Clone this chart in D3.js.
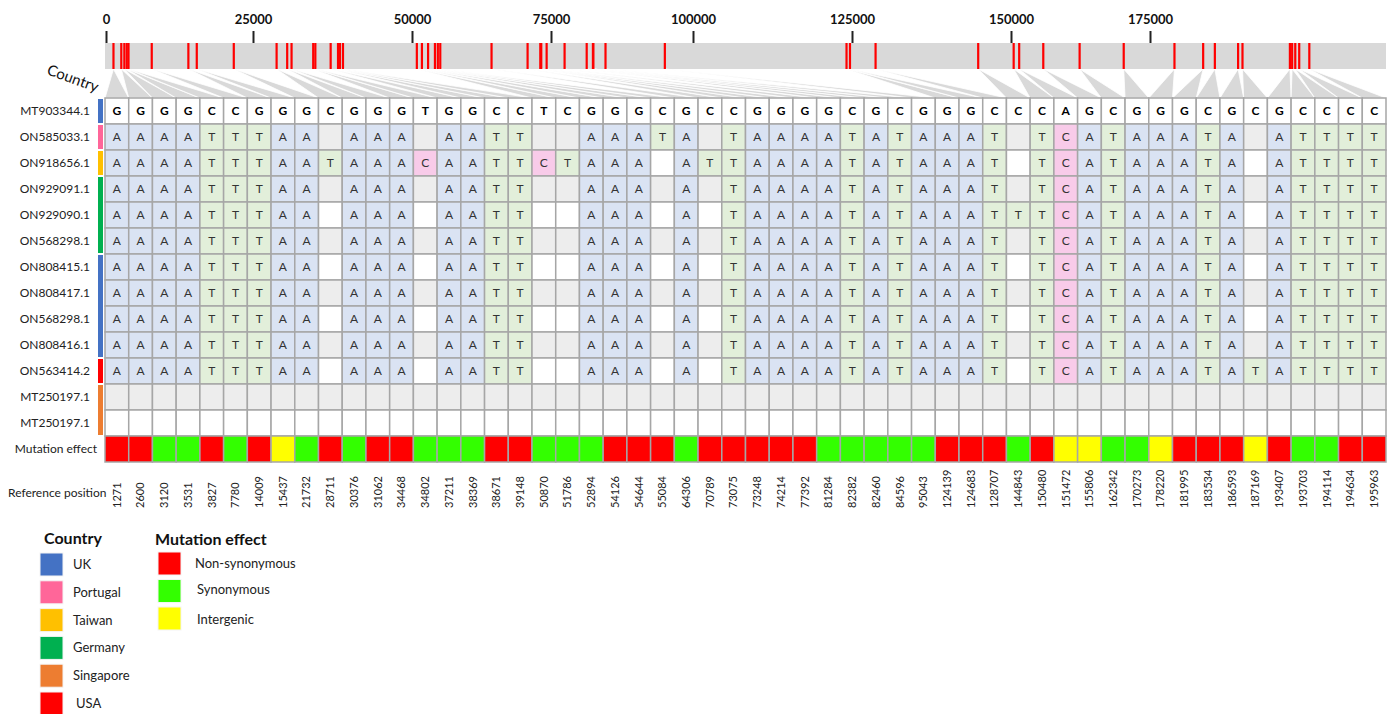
<!DOCTYPE html>
<html><head><meta charset="utf-8">
<script src="https://cdn.jsdelivr.net/npm/d3@7"></script>
<style>
body{margin:0;background:#fff;}
text{font-family:Lato,"Open Sans",sans-serif;}
</style>
</head><body>
<svg id="c" width="1394" height="714"></svg>
<script>
// ---------- data ----------
const positions = [1271,2600,3120,3531,3827,7780,14009,15437,21732,28711,30376,31062,34468,34802,37211,38369,38671,39148,50870,51786,52894,54126,54644,55084,64306,70789,73075,73248,74214,77392,81284,82382,82460,84596,95043,124139,124683,128707,144843,150480,151472,155806,162342,170273,178220,181995,183534,186593,187169,193407,193703,194114,194634,195963];
const genomeTicks = [0,25000,50000,75000,100000,125000,150000,175000];
const sampleNames = ["MT903344.1","ON585033.1","ON918656.1","ON929091.1","ON929090.1","ON568298.1","ON808415.1","ON808417.1","ON568298.1","ON808416.1","ON563414.2","MT250197.1","MT250197.1"];
const sampleCountries = ["UK","Portugal","Taiwan","Germany","Germany","Germany","UK","UK","UK","UK","USA","Singapore","Singapore"];
// "-" = same as reference (no call shown)
const sampleSeqs = [
  "GGGGCCGGGCGGGTGGCCTCGGGCGCCGGGGCGCGGGCCCAGCGGGCGCGCCCC",
  "AAAATTTAA-AAA-AATT--AAATA-TAAAATATAAAT-TCATAAATA-ATTTT",
  "AAAATTTAATAAACAATTCTAAA-ATTAAAATATAAAT-TCATAAATA-ATTTT",
  "AAAATTTAA-AAA-AATT--AAA-A-TAAAATATAAAT-TCATAAATA-ATTTT",
  "AAAATTTAA-AAA-AATT--AAA-A-TAAAATATAAATTTCATAAATA-ATTTT",
  "AAAATTTAA-AAA-AATT--AAA-A-TAAAATATAAAT-TCATAAATA-ATTTT",
  "AAAATTTAA-AAA-AATT--AAA-A-TAAAATATAAAT-TCATAAATA-ATTTT",
  "AAAATTTAA-AAA-AATT--AAA-A-TAAAATATAAAT-TCATAAATA-ATTTT",
  "AAAATTTAA-AAA-AATT--AAA-A-TAAAATATAAAT-TCATAAATA-ATTTT",
  "AAAATTTAA-AAA-AATT--AAA-A-TAAAATATAAAT-TCATAAATA-ATTTT",
  "AAAATTTAA-AAA-AATT--AAA-A-TAAAATATAAAT-TCATAAATATATTTT",
  "------------------------------------------------------",
  "------------------------------------------------------"
];
const effects = ["Non-synonymous","Non-synonymous","Synonymous","Synonymous","Non-synonymous","Synonymous","Non-synonymous","Intergenic","Synonymous","Non-synonymous",
  "Synonymous","Non-synonymous","Non-synonymous","Synonymous","Synonymous","Synonymous","Non-synonymous","Non-synonymous","Synonymous","Synonymous",
  "Synonymous","Non-synonymous","Non-synonymous","Non-synonymous","Synonymous","Non-synonymous","Non-synonymous","Non-synonymous","Non-synonymous","Non-synonymous",
  "Synonymous","Synonymous","Synonymous","Synonymous","Synonymous","Non-synonymous","Non-synonymous","Non-synonymous","Synonymous","Non-synonymous",
  "Intergenic","Intergenic","Synonymous","Synonymous","Intergenic","Non-synonymous","Non-synonymous","Non-synonymous","Intergenic","Non-synonymous",
  "Synonymous","Synonymous","Non-synonymous","Non-synonymous"];
const countryNames = ["UK","Portugal","Taiwan","Germany","Singapore","USA"];
const countryColors = ["#4472c4","#ff6699","#ffc000","#00b050","#ed7d31","#ff0000"];
const effectNames = ["Non-synonymous","Synonymous","Intergenic"];
const effectColors = ["#ff0000","#33ff00","#ffff00"];
const baseColors = {A:"#dae3f3",T:"#e2efda",C:"#f8cbe9",G:"#fff2cc"};

// ---------- layout ----------
const svg = d3.select("#c");
const gridL = 105, gridR = 1386, gridTop = 98, rowH = 26;
const barTop = 43, barBot = 69;
const xG = d3.scaleLinear()
  .domain([0,25000,50000,75000,100000,125000,150000,175000,200000])
  .range([106,253,412,551,693,852,1011,1150,1340]);
const xC = d3.scaleBand().domain(positions).range([gridL, gridR]);
const nRows = sampleNames.length + 1;
const yR = d3.scaleBand().domain(d3.range(nRows)).range([gridTop, gridTop + nRows*rowH]);
const countryColor = d3.scaleOrdinal().domain(countryNames).range(countryColors);
const effectColor = d3.scaleOrdinal().domain(effectNames).range(effectColors);

// genome bar
svg.append("rect").attr("x", gridL).attr("y", barTop).attr("width", gridR-gridL).attr("height", barBot-barTop).attr("fill","#d9d9d9");

// axis
const ax = svg.append("g").attr("transform",`translate(0,${barTop})`)
  .call(d3.axisTop(xG).tickValues(genomeTicks).tickSize(12).tickPadding(7).tickFormat(d3.format("d")));
ax.select(".domain").remove();
ax.selectAll(".tick line").attr("stroke","#222").attr("stroke-width",2);
ax.selectAll(".tick text").attr("font-size",13).attr("font-weight","bold").attr("fill","#111")
  .style("font-family","Lato, 'Open Sans', sans-serif");

// fans
svg.append("g").selectAll("polygon").data(positions).join("polygon")
  .attr("points", p => [[xG(p), barBot],[xC(p), gridTop],[xC(p)+xC.bandwidth(), gridTop]].map(d=>d.join(",")).join(" "))
  .attr("fill","#d9d9d9").attr("stroke","#fff").attr("stroke-width",0.8);

// red lines
svg.append("g").selectAll("rect").data(positions).join("rect")
  .attr("x", p => xG(p)-1.1).attr("y", barTop).attr("width", 2.2).attr("height", barBot-barTop).attr("fill","#ff0000");

// "Country" rotated
svg.append("text").attr("transform","translate(46,74) rotate(20)").attr("font-size",15).attr("fill","#111").text("Country");

// grid cells
const cells = [];
sampleSeqs.forEach((s,i) => s.split("").forEach((b,j) => cells.push({i, j, b, p: positions[j]})));
const cg = svg.append("g");
cg.selectAll("rect").data(cells).join("rect")
  .attr("x", d => xC(d.p)).attr("y", d => yR(d.i)).attr("width", xC.bandwidth()).attr("height", rowH)
  .attr("fill", d => d.i === 0 ? "#ffffff" : (d.b === "-" ? (d.i % 2 ? "#ededed" : "#ffffff") : baseColors[d.b]))
  .attr("stroke","#a6a6a6").attr("stroke-width",1.5);
cg.selectAll("text").data(cells.filter(d => d.b !== "-")).join("text")
  .attr("x", d => xC(d.p) + xC.bandwidth()/2).attr("y", d => yR(d.i) + rowH/2).attr("dy","0.36em")
  .attr("text-anchor","middle").attr("font-size",12)
  .attr("font-weight", d => d.i === 0 ? "bold" : "normal")
  .attr("fill", d => d.i === 0 ? "#000" : "#333").text(d => d.b);

// mutation effect row
const effRow = sampleNames.length;
svg.append("g").selectAll("rect").data(positions).join("rect")
  .attr("x", p => xC(p)).attr("y", yR(effRow)).attr("width", xC.bandwidth()).attr("height", rowH)
  .attr("fill", (p,j) => effectColor(effects[j])).attr("stroke","#a6a6a6").attr("stroke-width",1.5);

// row labels
svg.append("g").selectAll("text").data(sampleNames.concat(["Mutation effect"])).join("text")
  .attr("x", d => d === "Mutation effect" ? 97 : 90).attr("y", (d,i) => yR(i) + rowH/2).attr("dy","0.35em")
  .attr("text-anchor","end").attr("font-size",12).attr("fill","#222").text(d => d);

// country bars (contiguous runs)
const runs = [];
sampleCountries.forEach((c,i) => {
  if (runs.length && runs[runs.length-1].c === c) runs[runs.length-1].end = i;
  else runs.push({c, start:i, end:i});
});
svg.append("g").selectAll("rect").data(runs).join("rect")
  .attr("x", 98).attr("width", 5)
  .attr("y", d => yR(d.start) + 1).attr("height", d => yR(d.end) + rowH - yR(d.start) - 2)
  .attr("fill", d => countryColor(d.c));

// reference position labels
svg.append("text").attr("x", 8).attr("y", 493).attr("dy","0.35em").attr("font-size",12).attr("fill","#222").text("Reference position");
svg.append("g").selectAll("text").data(positions).join("text")
  .attr("transform", p => `translate(${xC(p)+xC.bandwidth()/2},508) rotate(-90)`)
  .attr("dy","0.35em").attr("text-anchor","start").attr("font-size",11).attr("fill","#222").text(p => p);

// legends
const lg = svg.append("g");
lg.append("text").attr("x",44).attr("y",538).attr("dy","0.35em").attr("font-size",16).attr("font-weight","bold").attr("fill","#111").text("Country");
lg.selectAll("rect.c").data(countryNames).join("rect").attr("class","c")
  .attr("x",40).attr("y",(d,i)=>553 + i*27.8).attr("width",23).attr("height",23)
  .attr("fill", d => countryColor(d)).attr("stroke","#f4f4f4").attr("stroke-width",1);
lg.selectAll("text.c").data(countryNames).join("text").attr("class","c")
  .attr("x",(d,i)=> i===5 ? 76 : 73).attr("y",(d,i)=>564.5 + i*27.8).attr("dy","0.35em")
  .attr("font-size",13).attr("fill","#222").text(d=>d);
lg.append("text").attr("x",155).attr("y",539).attr("dy","0.35em").attr("font-size",16).attr("font-weight","bold").attr("fill","#111").text("Mutation effect");
lg.selectAll("rect.e").data(effectNames).join("rect").attr("class","e")
  .attr("x",158).attr("y",(d,i)=>552 + i*27.5).attr("width",23).attr("height",23)
  .attr("fill", d => effectColor(d)).attr("stroke","#f4f4f4").attr("stroke-width",1);
lg.selectAll("text.e").data(effectNames).join("text").attr("class","e")
  .attr("x",(d,i)=> i===0 ? 195 : 197).attr("y",(d,i)=>[563,589,619][i]).attr("dy","0.35em")
  .attr("font-size",13).attr("fill","#222").text(d=>d);
</script>
</body></html>
